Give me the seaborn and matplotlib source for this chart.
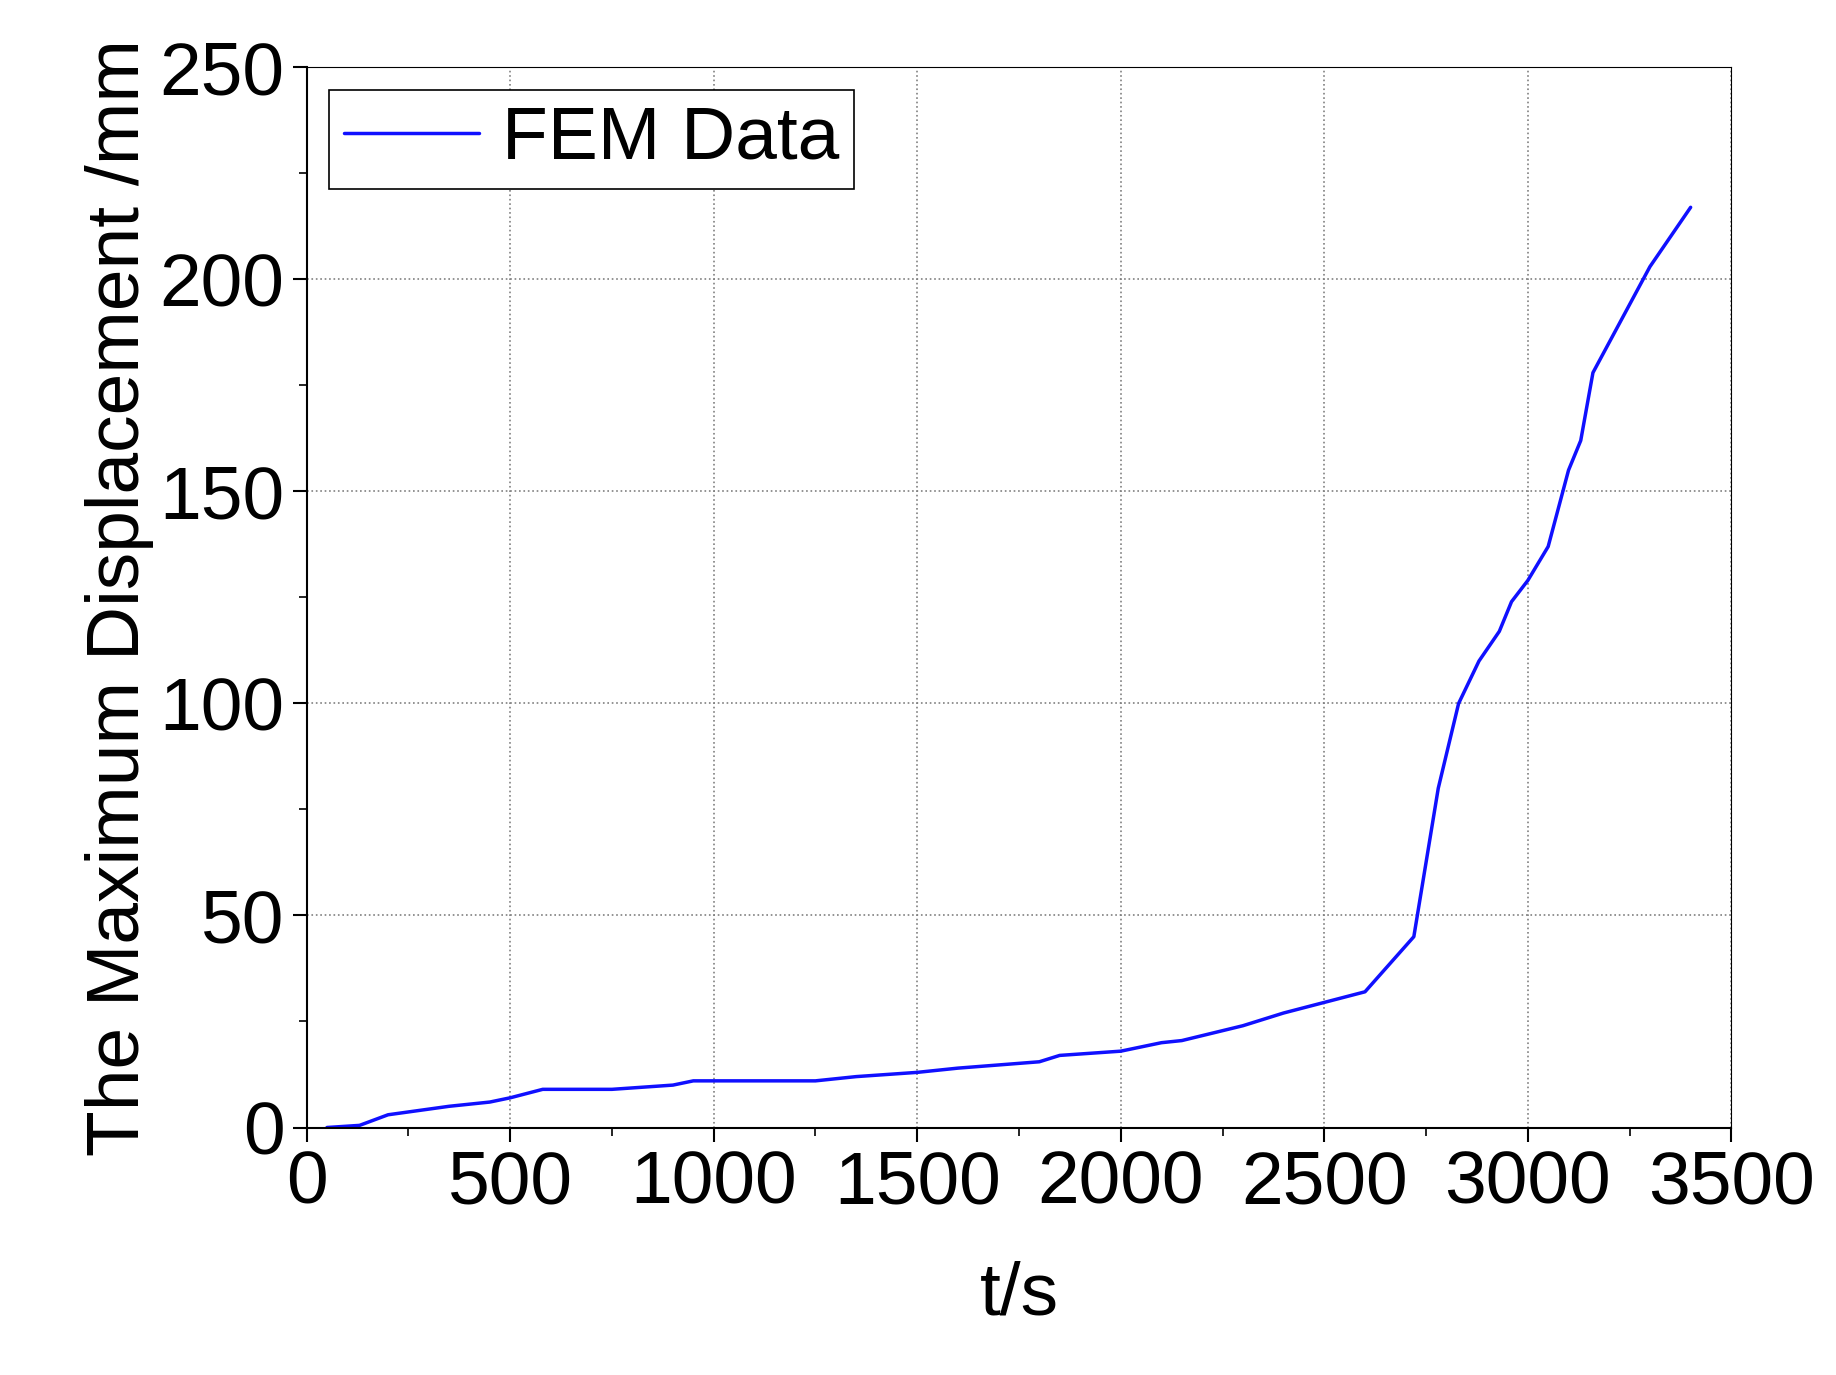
import matplotlib
matplotlib.use("Agg")
import matplotlib.pyplot as plt
import seaborn as sns
import pandas as pd
from matplotlib.ticker import MultipleLocator

# Values
t = [50, 130, 200, 350, 450, 500, 580, 750, 900, 950, 1250, 1350, 1500, 1600,
     1800, 1850, 2000, 2100, 2150, 2300, 2400, 2500, 2600, 2720, 2780, 2830,
     2880, 2930, 2960, 3000, 3050, 3100, 3130, 3160, 3300, 3400]
disp = [0, 0.5, 3, 5, 6, 7, 9, 9, 10, 11, 11, 12, 13, 14,
        15.5, 17, 18, 20, 20.5, 24, 27, 29.5, 32, 45, 80, 100,
        110, 117, 124, 129, 137, 155, 162, 178, 203, 217]

df = pd.DataFrame({"t": t, "disp": disp})

sns.set_style("ticks")
plt.rcParams["font.family"] = ["Liberation Sans", "DejaVu Sans"]
plt.rcParams["text.color"] = "black"
plt.rcParams["axes.labelcolor"] = "black"
plt.rcParams["xtick.color"] = "black"
plt.rcParams["ytick.color"] = "black"

fig = plt.figure(figsize=(18.36, 13.75), dpi=100)
ax = fig.add_axes([0.167, 0.18, 0.776, 0.771])
sns.lineplot(data=df, x="t", y="disp", color="#1010ff", linewidth=2.5, label="FEM Data", ax=ax)

ax.set_xlim(0, 3500)
ax.set_ylim(0, 250)
ax.xaxis.set_major_locator(MultipleLocator(500))
ax.xaxis.set_minor_locator(MultipleLocator(250))
ax.yaxis.set_major_locator(MultipleLocator(50))
ax.yaxis.set_minor_locator(MultipleLocator(25))
ax.tick_params(which="major", length=10, width=1.5, labelsize=54, pad=6)
ax.tick_params(which="minor", length=6, width=1.2)
ax.grid(True, which="major", color="gray", linestyle=":", linewidth=1.2)
for s in ax.spines.values():
    s.set_linewidth(1.5)
    s.set_visible(True)
    s.set_color("black")
ax.spines["top"].set_linewidth(0.8)
ax.spines["right"].set_linewidth(0.8)

ax.set_xlabel("t/s", fontsize=54, labelpad=30)
ax.set_ylabel("The Maximum Displacement /mm", fontsize=54, labelpad=4)

leg = ax.legend(loc="upper left", fontsize=54, fancybox=False, framealpha=1,
                edgecolor="black", handlelength=1.8, handletextpad=0.3,
                borderpad=0.2, borderaxespad=0.3)
leg.get_frame().set_linewidth(1.2)

fig.savefig("out.png", dpi=100)
